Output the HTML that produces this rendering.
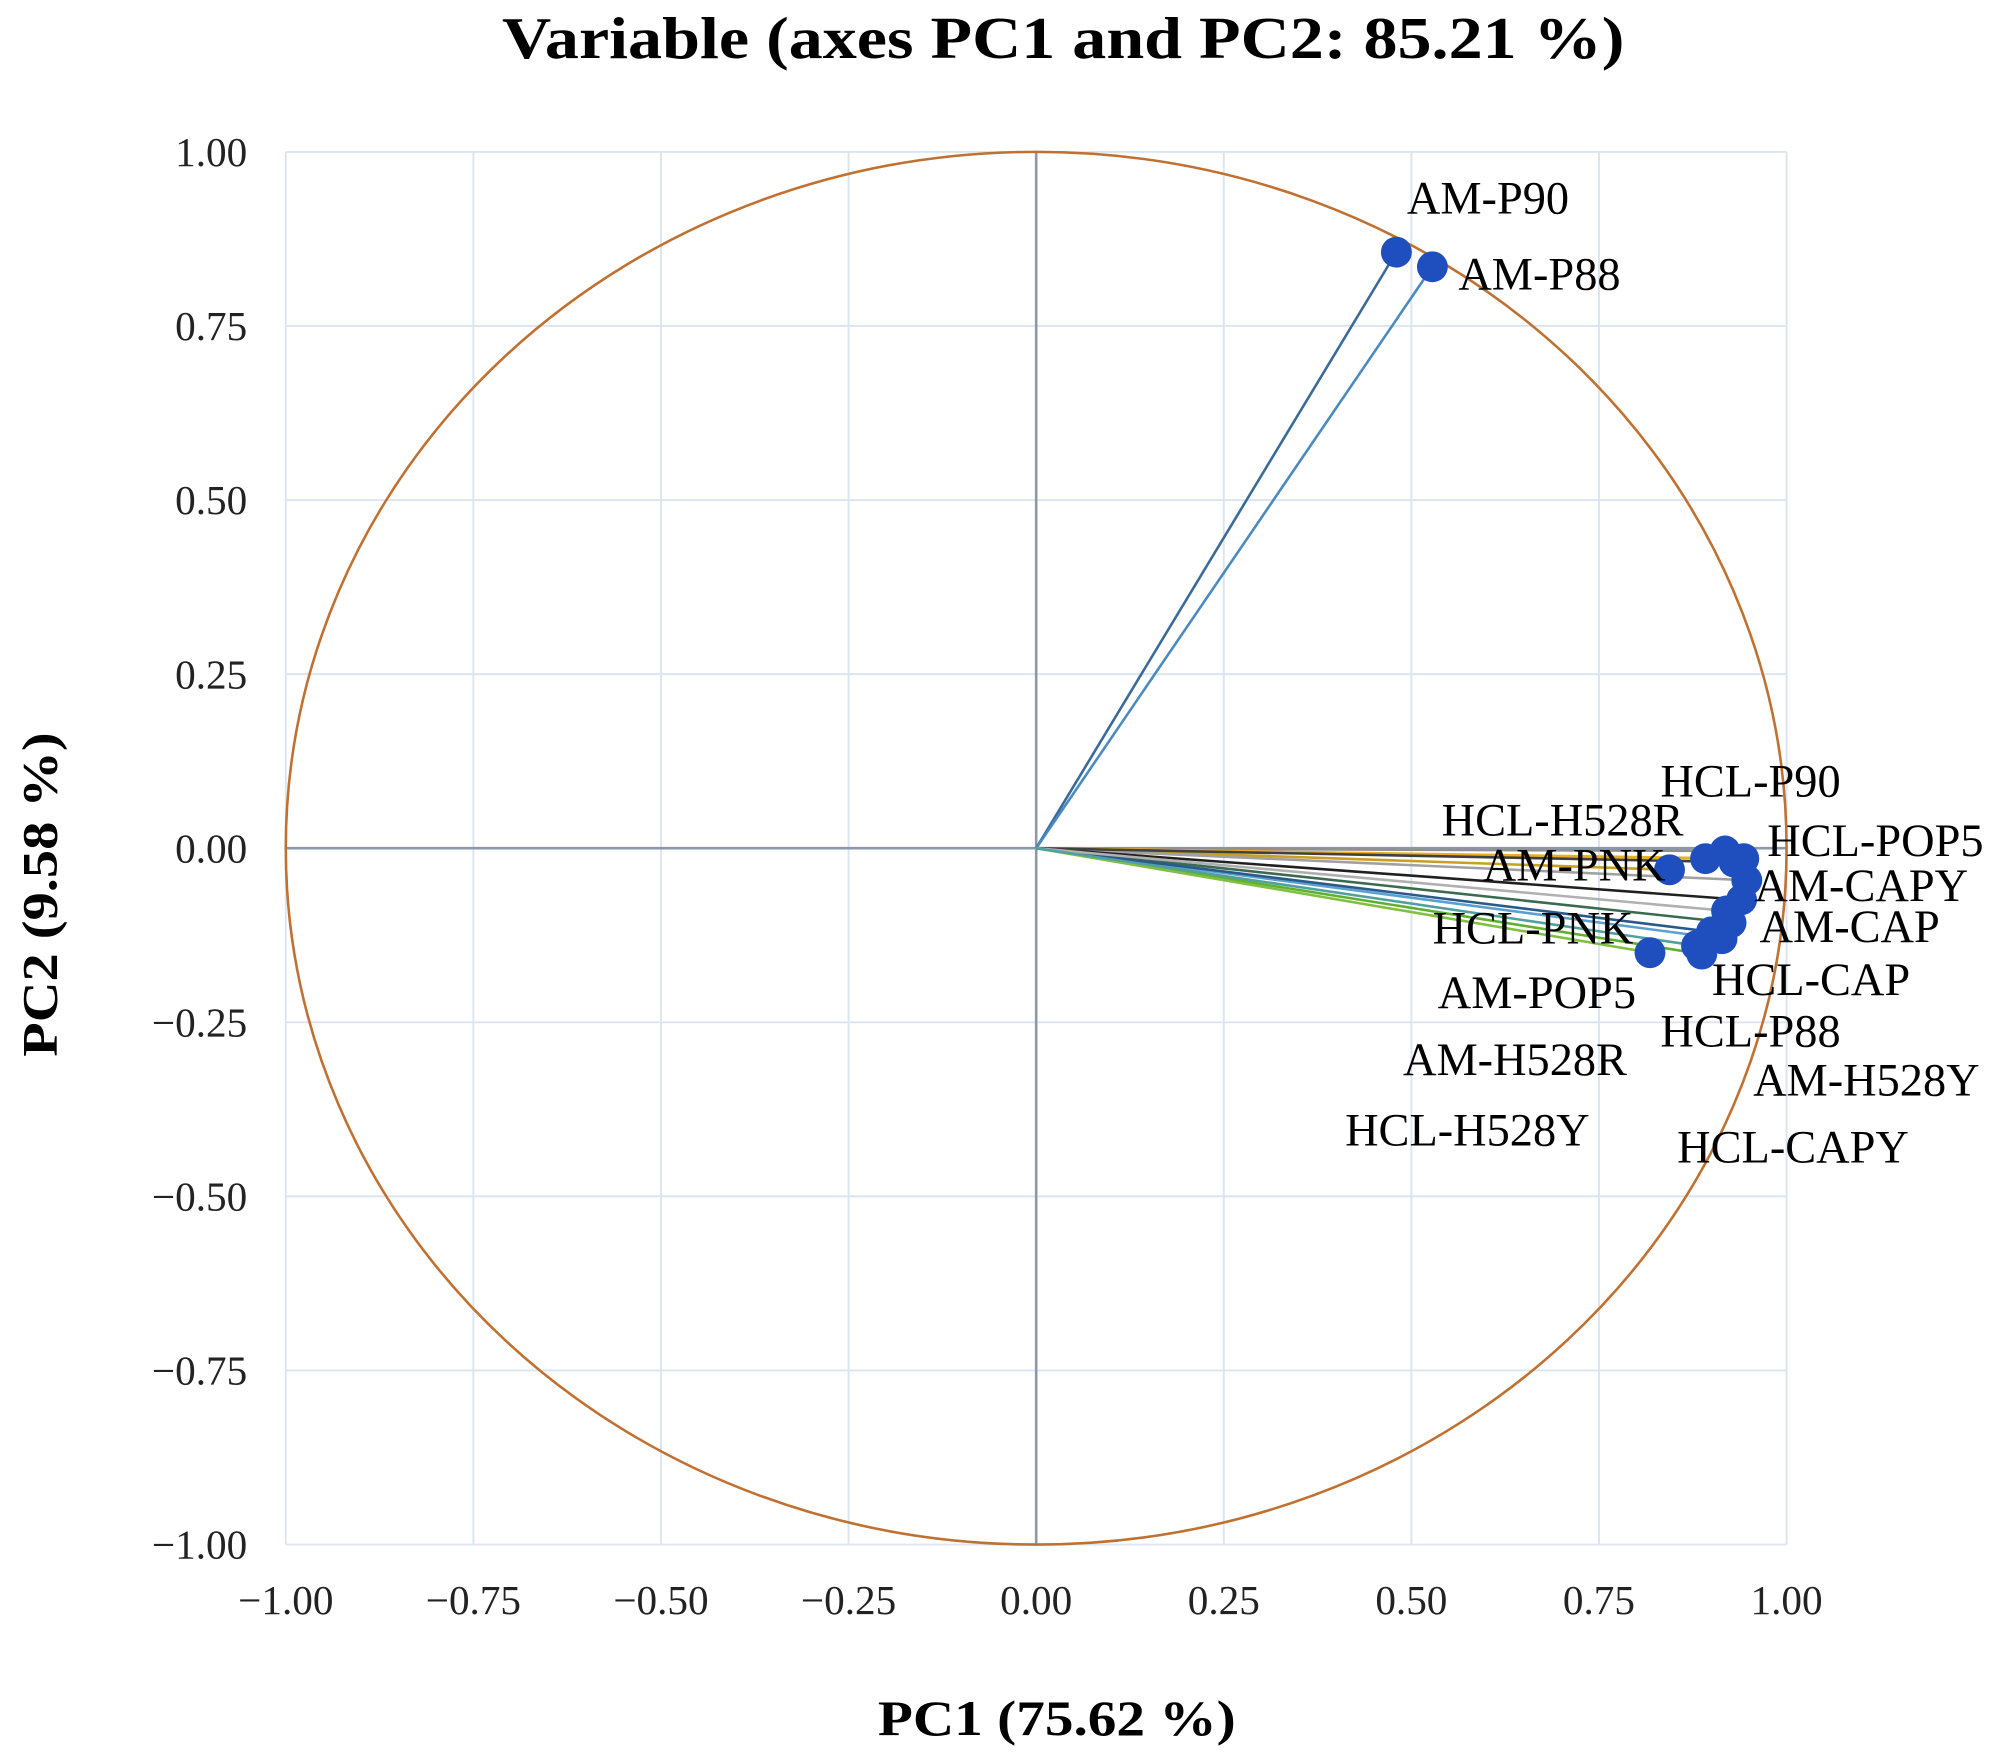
<!DOCTYPE html>
<html><head><meta charset="utf-8"><style>
html,body{margin:0;padding:0;background:#fff;}
svg{display:block;font-family:"Liberation Serif",serif;}
</style></head><body>
<svg id="chart" width="2008" height="1755" viewBox="0 0 1560 1363.5" xmlns="http://www.w3.org/2000/svg">
<text x="826" y="45" text-anchor="middle" font-weight="bold" font-size="46" textLength="872" lengthAdjust="spacingAndGlyphs">Variable (axes PC1 and PC2: 85.21 %)</text>
<text x="821" y="1348" text-anchor="middle" font-weight="bold" font-size="39" textLength="278" lengthAdjust="spacingAndGlyphs">PC1 (75.62 %)</text>
<text transform="translate(44,695) rotate(-90)" text-anchor="middle" font-weight="bold" font-size="39" textLength="252" lengthAdjust="spacingAndGlyphs">PC2 (9.58 %)</text>
<g id="grid"></g>
<g id="axes"></g>
<g id="vectors"></g>
<g id="labels"></g>
</svg>
<script>
const ticks = [-1, -0.75, -0.5, -0.25, 0, 0.25, 0.5, 0.75, 1];
const tickLabels = ["\u22121.00","\u22120.75","\u22120.50","\u22120.25","0.00","0.25","0.50","0.75","1.00"];
const pointNames = ["AM-P90","AM-P88","AM-PNK","HCL-H528R","HCL-P90","HCL-POP5","AM-CAPY","AM-CAP","HCL-PNK","HCL-CAP","HCL-P88","AM-POP5","AM-H528R","AM-H528Y","HCL-H528Y","HCL-CAPY"];
const pc1 = [0.48, 0.528, 0.844, 0.892, 0.918, 0.943, 0.947, 0.94, 0.926, 0.914, 0.887, 0.818, 0.93, 0.9, 0.92, 0.88];
const pc2 = [0.856, 0.835, -0.031, -0.015, -0.004, -0.015, -0.046, -0.074, -0.107, -0.13, -0.152, -0.15, -0.02, -0.12, -0.09, -0.14];
const lineColors = ["#3a6a9a","#4a8ac0","#c8a020","#e0b030","#909090","#e8b020","#a0a0a0","#202020","#3a6a50","#5aa0d0","#60b030","#80c040","#404040","#2a5a8a","#b0b0b0","#50a0a0"];
const labelX = [1093,1133,1152,1120,1290,1373,1363,1367,1113,1330,1290,1117,1090,1362,1045,1303];
const labelY = [165,224,683,648,618,664,699,731,732,772,812,782,834,850,889,902];

const NS="http://www.w3.org/2000/svg";
const X0=222,X1=1388,Y0=1200,Y1=118;
const sx=v=>X0+(v+1)/2*(X1-X0);
const sy=v=>Y0-(v+1)/2*(Y0-Y1);
function mk(tag,attrs,parent){const e=document.createElementNS(NS,tag);for(const k in attrs)e.setAttribute(k,attrs[k]);parent.appendChild(e);return e;}
const grid=document.getElementById('grid'),axes=document.getElementById('axes'),vec=document.getElementById('vectors'),lab=document.getElementById('labels');
ticks.forEach((t,i)=>{
  const gv=mk('line',{x1:sx(t),x2:sx(t),y1:Y1,y2:Y0,stroke:'#dbe5f1','stroke-width':1.5},grid);
  
  
  const gh=mk('line',{x1:X0,x2:X1,y1:sy(t),y2:sy(t),stroke:'#dbe5f1','stroke-width':1.5},grid);
  
  
  const tx=mk('text',{x:sx(t),y:1254,'text-anchor':'middle','font-size':32,fill:'#222'},axes);
  tx.textContent=tickLabels[i];
  
  
  const ty=mk('text',{x:192,y:sy(t)+11,'text-anchor':'end','font-size':32,fill:'#222'},axes);
  ty.textContent=tickLabels[i];
  
  
});
const ax=mk('line',{x1:X0,x2:X1,y1:sy(0),y2:sy(0),stroke:'#8a98a8','stroke-width':2},axes);


const ay=mk('line',{x1:sx(0),x2:sx(0),y1:Y1,y2:Y0,stroke:'#8a98a8','stroke-width':2},axes);


const circ=mk('ellipse',{cx:sx(0),cy:sy(0),rx:sx(1)-sx(0),ry:sy(0)-sy(1),fill:'none',stroke:'#c07030','stroke-width':2},axes);


pc1.forEach((v,i)=>{
  const l=mk('line',{x1:sx(0),y1:sy(0),x2:sx(v),y2:sy(pc2[i]),stroke:lineColors[i],'stroke-width':2},vec);
  
  
});
pc1.forEach((v,i)=>{
  const c=mk('circle',{cx:sx(v),cy:sy(pc2[i]),r:12,fill:'#1f4fbf'},vec);
  
  
});
pointNames.forEach((n,i)=>{
  const t=mk('text',{x:labelX[i],y:labelY[i]+1,'font-size':36,fill:'#000'},lab);
  t.textContent=n;
  
  
});
</script>
</body></html>
